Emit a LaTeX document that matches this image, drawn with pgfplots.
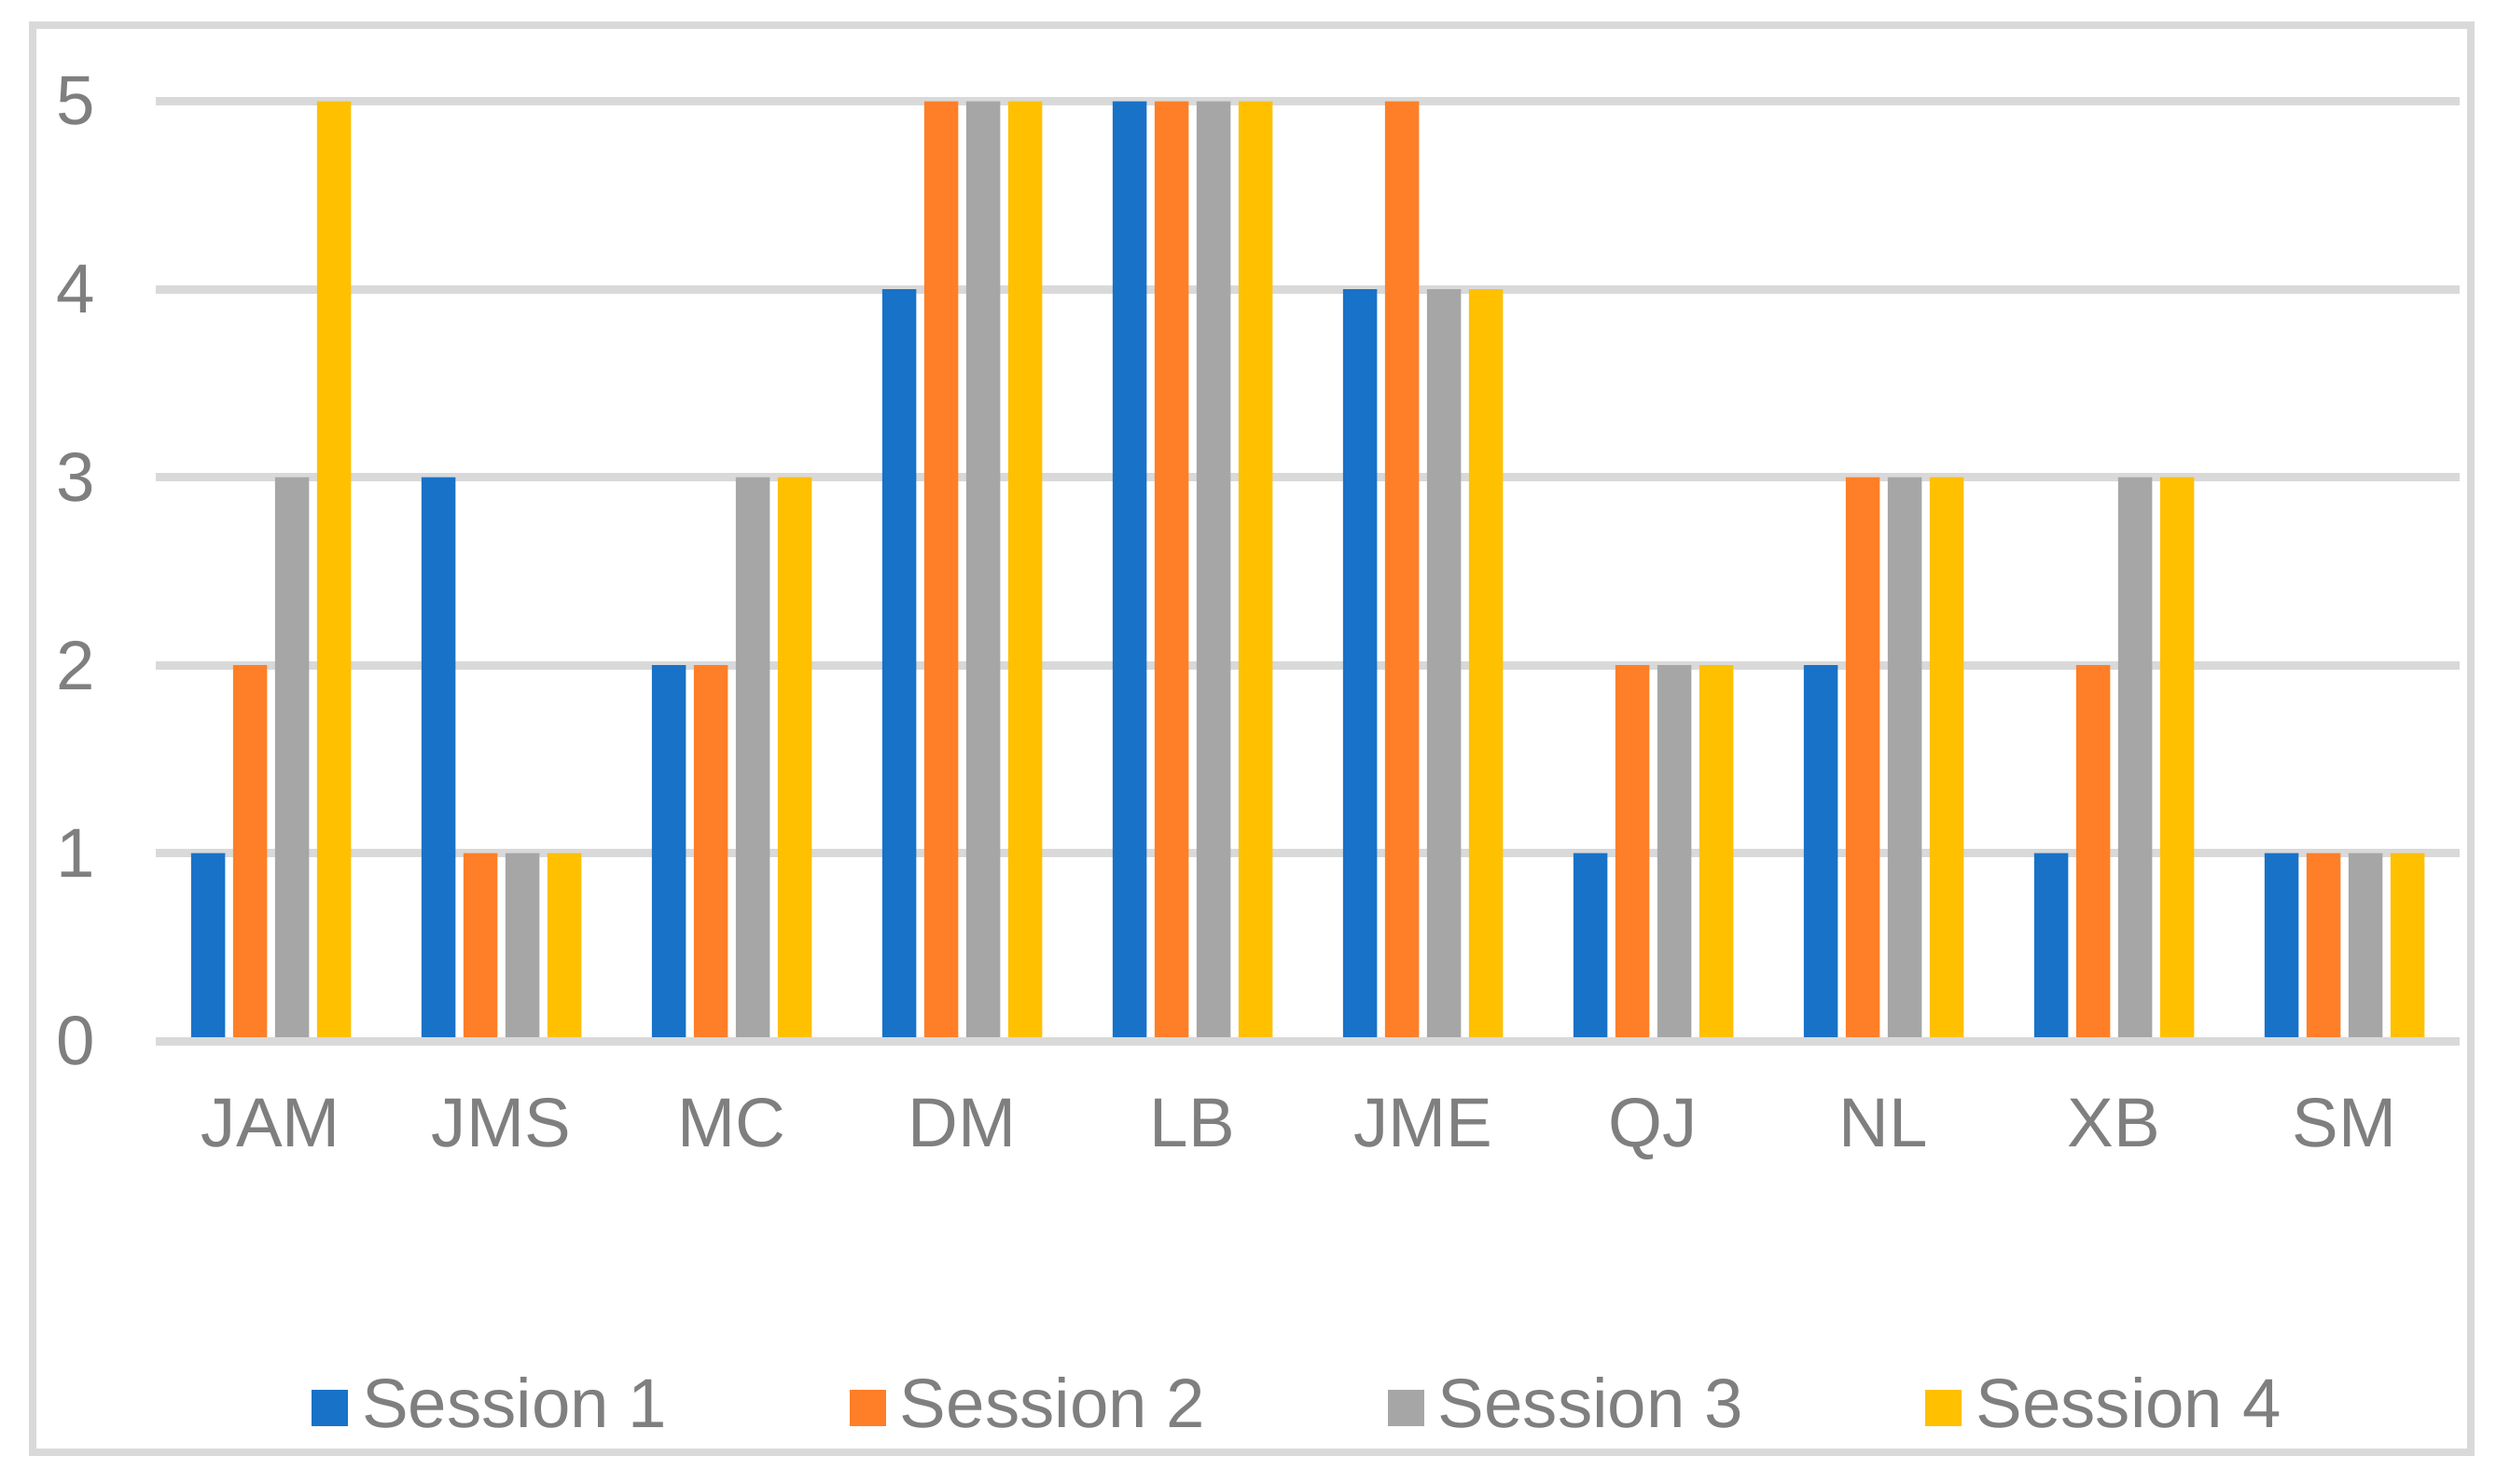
\documentclass[border=0pt]{standalone}
\usepackage{pgfplots}
\pgfplotsset{compat=1.18}
\usepackage{fontspec}
\setmainfont{Liberation Sans}
\definecolor{sOne}{HTML}{1872C8}
\definecolor{sTwo}{HTML}{FE7F27}
\definecolor{sThree}{HTML}{A6A6A6}
\definecolor{sFour}{HTML}{FFC000}
\definecolor{gridgray}{HTML}{D9D9D9}
\definecolor{txtgray}{HTML}{7F7F7F}
\newcommand{\chartfont}{\fontsize{21.2pt}{25pt}\selectfont}
\begin{document}
\begin{tikzpicture}
\useasboundingbox (0,0) rectangle (267.6mm,-159.1mm);
\fill[white] (0,0) rectangle (267.6mm,-159.1mm);
\draw[gridgray, line width=0.8mm] (3.5mm,-2.7mm) rectangle (264.9mm,-155.7mm);
\begin{axis}[
  at={(16.7mm,-111.6mm)}, anchor=south west,
  scale only axis, width=247.0mm, height=100.75mm,
  ybar=0.85mm, bar width=3.65mm,
  xmin=-0.5, xmax=9.5, ymin=0, ymax=5,
  xtick={0,...,9},
  xticklabels={JAM,JMS,MC,DM,LB,JME,QJ,NL,XB,SM},
  ytick={0,...,5},
  ymajorgrids, grid style={gridgray, line width=0.9mm},
  axis line style={draw=none},
  tick style={draw=none},
  clip=false,
  /pgf/number format/assume math mode=true,
  every tick label/.append style={font=\chartfont, text=txtgray},
  yticklabel style={anchor=east, inner sep=0pt, xshift=-6.4mm},
  xticklabel style={anchor=base, inner sep=0pt, yshift=-9.8mm},
  legend columns=4,
  legend style={at={(0.4951,-0.417)}, anchor=south, draw=none, fill=none,
    inner sep=0pt, outer sep=0pt, font=\chartfont, text=txtgray,
    nodes={inner sep=0pt},
    /tikz/every odd column/.append style={column sep=1.5mm},
    /tikz/every even column/.append style={column sep=19.55mm}},
  legend image code/.code={\fill[#1] (0mm,-2.2mm) rectangle (3.9mm,1.7mm);},
]
\addplot[draw=none, fill=sOne] coordinates {(0,1) (1,3) (2,2) (3,4) (4,5) (5,4) (6,1) (7,2) (8,1) (9,1)};
\addplot[draw=none, fill=sTwo] coordinates {(0,2) (1,1) (2,2) (3,5) (4,5) (5,5) (6,2) (7,3) (8,2) (9,1)};
\addplot[draw=none, fill=sThree] coordinates {(0,3) (1,1) (2,3) (3,5) (4,5) (5,4) (6,2) (7,3) (8,3) (9,1)};
\addplot[draw=none, fill=sFour] coordinates {(0,5) (1,1) (2,3) (3,5) (4,5) (5,4) (6,2) (7,3) (8,3) (9,1)};
\legend{Session 1, Session 2, Session 3, Session 4}
\draw[gridgray, line width=0.9mm] (axis cs:-0.5,0) -- (axis cs:9.5,0);
\end{axis}
\end{tikzpicture}
\end{document}
